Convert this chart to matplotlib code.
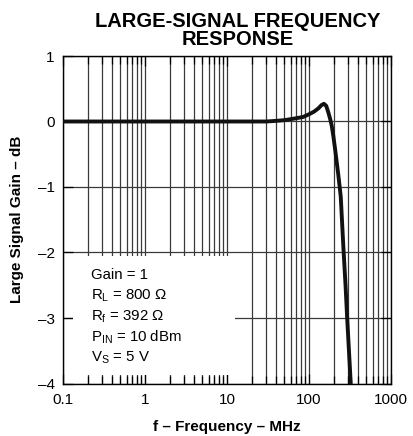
import numpy as np
import matplotlib
matplotlib.use("Agg")
import matplotlib.pyplot as plt
from matplotlib.patches import Rectangle

plt.rcParams['font.family'] = ['Liberation Sans', 'DejaVu Sans']
plt.rcParams['mathtext.fontset'] = 'custom'
plt.rcParams['mathtext.rm'] = 'Liberation Sans'
plt.rcParams['mathtext.default'] = 'regular'

# data
freq_mhz = [0.1, 1, 10, 30, 40, 50, 70, 85, 100, 115, 130, 142, 152, 162,
            172, 181, 189, 198, 208, 228, 244, 262, 279, 292, 323]
gain_db = [0, 0, 0, 0, 0.01, 0.02, 0.05, 0.07, 0.11, 0.15, 0.2, 0.25, 0.27, 0.24,
           0.14, 0.04, -0.06, -0.22, -0.42, -0.82, -1.15, -1.9, -2.5, -3.0, -4.0]

x_ticks = [0.1, 1, 10, 100, 1000]
x_labels = ['0.1', '1', '10', '100', '1000']
y_ticks = [1, 0, -1, -2, -3, -4]
y_labels = ['1', '0', '\u20131', '\u20132', '\u20133', '\u20134']

notes = ['Gain = 1', 'R$_L$ = 800 \u03a9', 'R$_f$ = 392 \u03a9',
         'P$_{IN}$ = 10 dBm', 'V$_S$ = 5 V']

W, H = 413, 436
fig = plt.figure(figsize=(W / 100, H / 100), dpi=100)
ax = fig.add_axes([63 / W, 1 - 383.5 / H, 328 / W, 327.5 / H])

ax.set_xscale('log')
ax.set_xlim(0.1, 1000)
ax.set_ylim(-4, 1)

ax.grid(True, which='both', axis='x', color='#3a3a3a', lw=0.9, zorder=0)
ax.grid(True, which='major', axis='y', color='#3a3a3a', lw=0.9, zorder=0)
ax.set_axisbelow(True)

# blank box behind the condition notes
ax.add_patch(Rectangle((0.134, -3.87), 12.5 - 0.134, 1.82,
                       facecolor='white', edgecolor='none', zorder=1))

ax.plot(freq_mhz, gain_db, color='#111111', lw=2.8, solid_capstyle='round', zorder=3)

ax.set_xticks(x_ticks)
ax.set_xticklabels(x_labels)
ax.set_yticks(y_ticks)
ax.set_yticklabels(y_labels)
ax.tick_params(which='both', direction='in', top=True, right=True, color='black')
ax.tick_params(which='major', length=7, width=0.9, labelsize=11)
ax.tick_params(which='minor', length=6, width=0.9)
ax.tick_params(axis='x', pad=7)
ax.tick_params(axis='y', pad=6)
for s in ax.spines.values():
    s.set_linewidth(1)
    s.set_color('black')

ax.set_xlabel('f \u2013 Frequency \u2013 MHz', fontsize=11, fontweight='bold', labelpad=9)
ax.set_ylabel('Large Signal Gain \u2013 dB', fontsize=11, fontweight='bold', labelpad=10)

for i, t in enumerate(notes):
    ypx = 279.3 + 20.7 * i
    ax.text((90.7 - 63) / 328, (383.5 - ypx) / 327.5, t, transform=ax.transAxes,
            fontsize=10.8, va='baseline', ha='left', zorder=4)

fig.text(238 / W, 1 - 26.7 / H, 'LARGE-SIGNAL FREQUENCY', ha='center', va='baseline',
         fontsize=14.5, fontweight='bold')
fig.text(238 / W, 1 - 45 / H, 'RESPONSE', ha='center', va='baseline',
         fontsize=14.5, fontweight='bold')

fig.savefig('out.png', dpi=100)
